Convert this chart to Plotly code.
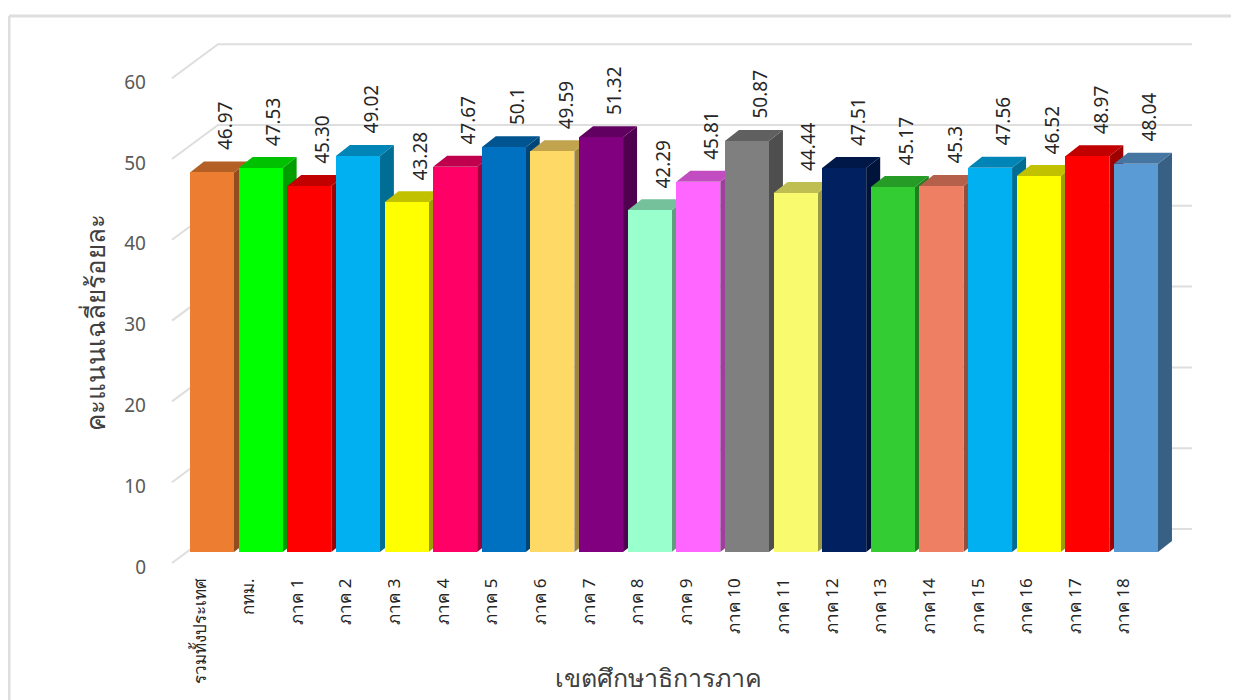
import plotly.graph_objects as go

# ---- data ----
categories = ["รวมทั้งประเทศ", "กทม.", "ภาค 1", "ภาค 2", "ภาค 3", "ภาค 4", "ภาค 5", "ภาค 6", "ภาค 7", "ภาค 8",
              "ภาค 9", "ภาค 10", "ภาค 11", "ภาค 12", "ภาค 13", "ภาค 14", "ภาค 15", "ภาค 16", "ภาค 17", "ภาค 18"]
values = [46.97, 47.53, 45.30, 49.02, 43.28, 47.67, 50.1, 49.59, 51.32, 42.29,
          45.81, 50.87, 44.44, 47.51, 45.17, 45.3, 47.56, 46.52, 48.97, 48.04]
value_labels = ["46.97", "47.53", "45.30", "49.02", "43.28", "47.67", "50.1", "49.59", "51.32", "42.29",
                "45.81", "50.87", "44.44", "47.51", "45.17", "45.3", "47.56", "46.52", "48.97", "48.04"]
colors = ["#ED7D31", "#00FF00", "#FF0000", "#00B0F0", "#FFFF00", "#FF0066", "#0070C0", "#FFD966", "#800080", "#99FFCC",
          "#FF66FF", "#7F7F7F", "#FAFA6E", "#002060", "#33CC33", "#EE7F62", "#00B0F0", "#FFFF00", "#FF0000", "#5B9BD5"]
y_ticks = [0, 10, 20, 30, 40, 50, 60]

# ---- geometry of the fake 3D projection (screen pixels; the page body adds an 8px margin) ----
PAGE = 8
W, H = 1239 - PAGE, 700 - PAGE
LEFT, RIGHT, TOP, BOTTOM = 165, 1200, 30, 574
PITCH = 48.63; X0 = 212          # first bar centre
UNIT = 8.08; Y0 = 552            # front plane zero
BAR_W = 44 / PITCH
DX = 14 / PITCH; DY = 11 / UNIT  # bar depth
xr = [(LEFT - X0) / PITCH, (RIGHT - X0) / PITCH]
yr = [(Y0 - BOTTOM) / UNIT, (Y0 - TOP) / UNIT]
TICK_ZERO = 563                  # pixel where the front "0" diagonal starts
LABEL_ZERO = 567                 # pixel of the "0" tick label
yr3 = [(LABEL_ZERO - BOTTOM) / UNIT, (LABEL_ZERO - TOP) / UNIT]
WALL_X = (218 - X0) / PITCH; WALL_DY = (Y0 - 529) / UNIT
WALL_END = (1192 - X0) / PITCH
TICK_X = (172 - X0) / PITCH; TICK_DY = (Y0 - TICK_ZERO) / UNIT
GRID = "#DEDEDE"
FONT = "Tahoma, 'Noto Sans', 'DejaVu Sans', sans-serif"
pw, ph = RIGHT - LEFT, BOTTOM - TOP


def px(x):
    return (x - LEFT) / pw


def py(y):
    return (BOTTOM - y) / ph


def shade(c, f):
    r, g, b = int(c[1:3], 16), int(c[3:5], 16), int(c[5:7], 16)
    return f"rgb({int(r*f)},{int(g*f)},{int(b*f)})"


fig = go.Figure()

# back wall and diagonal tick lines
for t in y_ticks:
    fig.add_trace(go.Scatter(
        x=[TICK_X, WALL_X, WALL_END],
        y=[t + TICK_DY, t + WALL_DY, t + WALL_DY],
        mode="lines", line=dict(color=GRID, width=2),
        hoverinfo="skip", showlegend=False, xaxis="x", yaxis="y"))

# side and top faces, left to right
for i, (v, c) in enumerate(zip(values, colors)):
    xl, xr_ = i - BAR_W / 2, i + BAR_W / 2
    fig.add_trace(go.Scatter(
        x=[xr_, xr_ + DX, xr_ + DX, xr_, xr_], y=[0, DY, v + DY, v, 0],
        mode="lines", fill="toself", fillcolor=shade(c, 0.62), line=dict(width=0),
        hoverinfo="skip", showlegend=False, xaxis="x", yaxis="y"))
    fig.add_trace(go.Scatter(
        x=[xl, xl + DX, xr_ + DX, xr_, xl], y=[v, v + DY, v + DY, v, v],
        mode="lines", fill="toself", fillcolor=shade(c, 0.76), line=dict(width=0),
        hoverinfo="skip", showlegend=False, xaxis="x", yaxis="y"))

# front faces on an overlay so they cover the neighbour's side face
fig.add_trace(go.Bar(x=list(range(len(values))), y=values, width=BAR_W,
                     marker=dict(color=colors, line=dict(width=0)),
                     hovertext=categories, showlegend=False, xaxis="x2", yaxis="y2"))

# overlay axis that carries the front tick labels
fig.add_trace(go.Scatter(x=[0] * len(y_ticks), y=y_ticks, mode="markers", marker=dict(opacity=0),
                         hoverinfo="skip", showlegend=False, xaxis="x2", yaxis="y3"))

# value labels
annotations = [dict(x=i + 0.27, y=v + DY, xref="x", yref="y", yanchor="bottom", xanchor="center",
                    yshift=9, text=lab, textangle=-90, showarrow=False,
                    font=dict(family=FONT, size=19, color="#262626"))
               for i, (v, lab) in enumerate(zip(values, value_labels))]

# axis titles
annotations += [
    dict(x=px(658), y=py(677), xref="paper", yref="paper", xanchor="center", yanchor="middle",
         text="เขตศึกษาธิการภาค", showarrow=False, font=dict(family=FONT, size=25, color="#404040")),
    dict(x=px(95), y=py(323), xref="paper", yref="paper", xanchor="center", yanchor="middle",
         text="คะแนนเฉลี่ยร้อยละ", textangle=-90, showarrow=False, font=dict(family=FONT, size=26, color="#404040")),
]

fig.update_layout(
    width=W, height=H, autosize=False,
    margin=dict(l=LEFT - PAGE, r=W - (RIGHT - PAGE), t=TOP - PAGE, b=H - (BOTTOM - PAGE), pad=0, autoexpand=False),
    paper_bgcolor="white", plot_bgcolor="rgba(0,0,0,0)",
    showlegend=False, bargap=0,
    xaxis=dict(range=xr, tickmode="array", tickvals=list(range(len(categories))), ticktext=categories,
               tickangle=-90, ticklen=0, showgrid=False, zeroline=False, showline=False, automargin=False,
               ticklabelshift=-12,
               tickfont=dict(family=FONT, size=17, color="#262626")),
    yaxis=dict(range=yr, visible=False, automargin=False),
    xaxis2=dict(range=xr, overlaying="x", visible=False, automargin=False),
    yaxis2=dict(range=yr, overlaying="y", visible=False, automargin=False),
    yaxis3=dict(range=yr3, overlaying="y", anchor="x", side="left", automargin=False,
                tickmode="array", tickvals=y_ticks, ticklen=0, showgrid=False, zeroline=False, showline=False,
                ticklabelstandoff=18,
                tickfont=dict(family=FONT, size=19, color="#595959")),
    annotations=annotations,
    shapes=[dict(type="line", xref="paper", yref="paper", line=dict(color=GRID, width=3),
                 x0=px(9), x1=px(1239), y0=py(16), y1=py(16)),
            dict(type="line", xref="paper", yref="paper", line=dict(color=GRID, width=3),
                 x0=px(9), x1=px(9), y0=py(16), y1=py(700))],
)

fig.write_html("out.html")
